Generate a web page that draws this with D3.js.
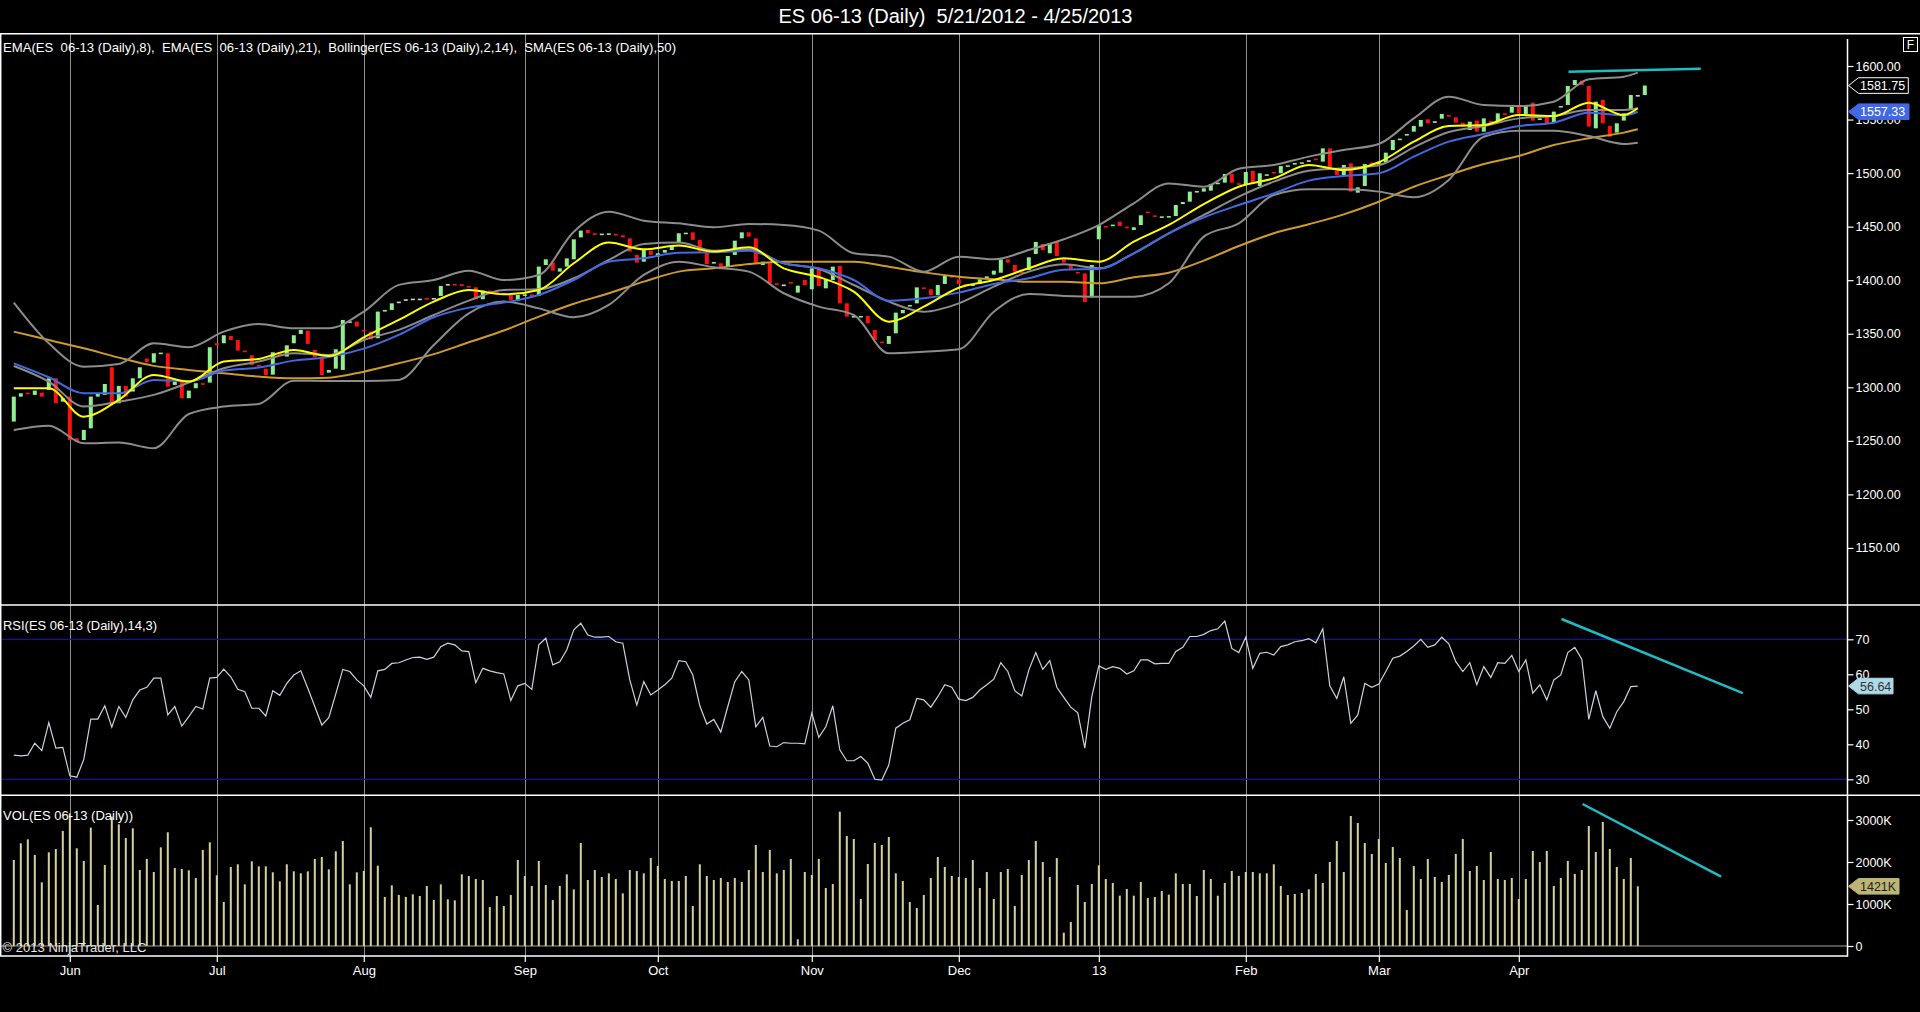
<!DOCTYPE html>
<html><head><meta charset="utf-8">
<script src="https://cdn.jsdelivr.net/npm/d3@7"></script>
<style>html,body{margin:0;padding:0;background:#000;overflow:hidden}svg{display:block}</style>
</head><body><svg id="c" width="1920" height="1012"></svg>
<script>
// ---------------- DATA ----------------
const titleText = "ES 06-13 (Daily)  5/21/2012 - 4/25/2013";
const monthLabels = ["Jun","Jul","Aug","Sep","Oct","Nov","Dec","13","Feb","Mar","Apr"];
const monthStart  = [8,29,50,73,92,114,135,155,176,195,215];
const priceTicks = [1150,1200,1250,1300,1350,1400,1450,1500,1550,1600];
const rsiTicks = [30,40,50,60,70];
const volTicks = [0,1000,2000,3000];

const openP = [
1268.0,1291.3,1295.0,1292.9,1295.0,1297.5,1308.4,1286.6,1291.3,1252.4,
1250.8,1261.7,1291.3,1292.9,1318.7,1285.1,1301.3,1296.0,1308.4,1326.8,
1323.1,1331.8,1331.8,1302.2,1305.3,1289.8,1299.1,1303.8,1304.4,1341.1,
1341.1,1347.9,1344.2,1334.3,1329.9,1320.9,1317.4,1311.8,1332.7,1328.7,
1341.1,1349.8,1352.9,1334.9,1328.7,1313.7,1317.4,1316.2,1361.6,1361.3,
1353.6,1352.0,1345.8,1370.7,1372.2,1380.0,1382.2,1382.8,1382.8,1383.4,
1383.4,1385.3,1396.5,1396.5,1396.2,1394.6,1393.4,1382.2,1390.3,1389.0,
1388.1,1386.2,1380.9,1386.2,1386.8,1385.3,1414.2,1416.4,1408.0,1412.7,
1419.5,1440.0,1446.9,1443.8,1443.2,1443.5,1443.2,1441.9,1439.1,1423.6,
1417.3,1427.6,1422.0,1425.7,1428.2,1435.1,1443.8,1444.7,1437.6,1426.7,
1416.1,1415.8,1412.7,1423.6,1439.1,1444.7,1439.1,1414.2,1415.8,1397.1,
1396.0,1398.3,1388.4,1400.2,1391.5,1410.2,1392.4,1400.2,1413.3,1378.4,
1366.0,1365.4,1366.6,1353.5,1342.6,1340.5,1350.4,1369.1,1375.6,1378.4,
1393.3,1391.5,1386.2,1396.5,1403.9,1400.8,1396.5,1395.2,1396.5,1402.7,
1405.2,1407.0,1419.5,1414.2,1408.0,1409.5,1424.5,1433.8,1425.1,1436.0,
1420.4,1415.1,1407.7,1406.4,1384.0,1438.2,1450.6,1450.6,1454.6,1450.0,
1446.9,1451.5,1464.0,1460.6,1459.3,1459.6,1459.9,1471.1,1473.3,1482.7,
1482.7,1483.6,1489.8,1491.1,1499.2,1490.5,1489.8,1502.0,1488.0,1498.2,
1501.0,1499.8,1506.6,1508.2,1509.4,1512.0,1513.5,1510.7,1523.1,1502.3,
1498.2,1509.1,1481.7,1488.0,1509.8,1507.9,1509.8,1521.6,1530.9,1535.3,
1538.7,1543.4,1550.2,1548.4,1550.8,1554.3,1552.1,1547.1,1540.2,1549.0,
1538.7,1548.6,1548.0,1555.8,1556.4,1562.7,1555.2,1565.8,1549.6,1552.7,
1547.1,1561.4,1563.6,1582.3,1586.3,1581.3,1541.8,1568.3,1544.0,1537.8,
1549.0,1558.9,1572.9,1572.9];
const closeP = [
1291.3,1294.4,1293.8,1296.9,1291.3,1308.4,1285.1,1289.8,1250.8,1249.3,
1260.2,1291.3,1294.4,1303.1,1285.1,1301.3,1291.3,1308.4,1318.7,1323.7,
1331.8,1332.4,1300.6,1305.3,1289.8,1296.9,1303.8,1302.5,1337.4,1339.2,
1348.6,1344.2,1334.3,1333.3,1320.9,1319.9,1311.5,1332.7,1330.2,1339.2,
1348.6,1353.6,1340.5,1328.0,1311.5,1316.2,1335.5,1362.9,1361.6,1356.7,
1352.3,1344.8,1370.7,1372.2,1378.4,1380.0,1382.2,1382.8,1382.8,1382.8,
1383.4,1394.6,1396.5,1395.5,1394.6,1394.3,1382.2,1390.3,1389.0,1388.1,
1387.5,1381.5,1386.2,1386.8,1384.6,1412.7,1419.5,1408.9,1411.1,1420.4,
1438.2,1446.3,1443.8,1443.2,1443.5,1443.8,1441.9,1440.0,1426.7,1416.4,
1428.2,1423.6,1425.1,1428.2,1432.9,1443.8,1444.4,1437.6,1426.7,1415.1,
1417.0,1410.2,1422.6,1436.9,1444.7,1440.7,1415.8,1417.3,1397.1,1396.5,
1396.0,1397.1,1394.9,1395.5,1411.1,1394.6,1400.2,1412.6,1378.4,1366.0,
1366.6,1366.6,1359.7,1344.2,1341.4,1347.9,1369.7,1372.2,1376.9,1393.3,
1392.7,1386.2,1395.5,1403.9,1402.7,1396.5,1396.1,1396.1,1400.8,1403.6,
1408.9,1419.5,1416.4,1408.0,1407.0,1421.4,1435.7,1428.2,1434.4,1422.6,
1416.4,1409.5,1406.4,1379.7,1414.2,1451.5,1449.4,1451.9,1450.6,1448.7,
1449.4,1460.6,1463.1,1459.3,1459.6,1459.9,1470.2,1473.0,1482.7,1483.3,
1485.8,1489.8,1491.1,1499.2,1491.1,1489.8,1501.0,1490.5,1499.8,1498.9,
1499.8,1506.6,1507.3,1509.4,1510.1,1512.0,1512.2,1523.1,1502.9,1498.2,
1507.6,1482.7,1486.7,1508.5,1508.5,1510.4,1519.1,1530.9,1532.2,1536.5,
1544.0,1549.6,1546.5,1548.4,1555.2,1552.7,1547.1,1543.4,1548.0,1538.7,
1551.1,1547.1,1555.8,1555.5,1562.0,1555.8,1563.6,1549.0,1551.1,1546.5,
1557.4,1562.7,1581.3,1586.9,1582.3,1543.4,1566.7,1546.5,1534.0,1546.5,
1555.8,1572.9,1572.9,1581.75];

const volumeK = [
2048,2445,2540,2167,1516,2230,2310,2738,3159,2326,
2024,2818,976,1929,3080,2897,2572,2802,1810,2072,
1762,2349,2707,1857,1833,1802,1619,2286,2468,1683,
1048,1881,1945,1468,2016,1897,1897,1754,1540,1945,
1778,1730,1778,2072,2119,1826,2254,2500,1468,1754,
1786,2826,1913,1167,1445,1214,1167,1230,1191,1429,
1095,1468,1111,1087,1706,1667,1595,1572,929,1191,
952,1214,2048,1667,1429,2024,1452,1095,1429,1706,
1349,2453,1572,1810,1643,1730,1595,1254,1810,1786,
1730,2095,1905,1595,1548,1548,1667,952,1945,1667,
1572,1619,1524,1619,1524,1810,2405,1762,2286,1730,
1810,2072,159,1762,1691,2072,1381,1476,3199,2619,
2548,1119,1953,2453,2405,2595,1730,1548,1048,905,
1214,1619,2119,1881,1667,1643,1619,2048,1381,1762,
1119,1762,1833,952,1691,2048,2500,2000,1643,2095,
317,571,1452,1048,1476,1921,1595,1500,1198,1357,
1198,1524,1143,1167,1310,1222,1730,1476,1476,1191,
1810,1595,1198,1500,1786,1670,1762,1762,1730,1730,
1945,1429,1214,1238,1262,1349,1714,1500,2000,2500,
1762,3095,2929,2453,2191,2548,1976,2357,2095,857,
1905,1595,2072,1643,1524,1691,2191,2548,1786,1905,
1572,2238,1595,1572,1619,1119,1595,2262,2000,2262,
1429,1619,2024,1714,1810,2857,2238,2953,2310,1881,
1595,2095,1421];

const rsiVals = [
36.9,36.7,36.9,40.3,38.2,46.2,38.9,39.1,31.0,30.6,
35.7,47.2,47.2,51.0,44.9,50.8,47.7,52.7,55.5,56.3,
58.9,58.9,48.4,50.8,45.2,47.9,50.8,50.1,58.9,59.1,
61.5,59.3,55.7,55.0,50.3,50.3,48.1,55.3,54.0,57.4,
59.8,61.0,56.0,50.8,45.5,47.6,54.4,61.4,60.8,58.4,
56.7,53.4,61.0,61.4,63.1,63.3,64.1,64.8,64.9,64.3,
64.9,67.9,68.9,68.4,66.7,66.5,57.6,61.7,61.0,60.5,
60.1,52.5,56.7,57.4,55.7,68.4,70.3,62.7,63.6,67.0,
72.7,74.6,71.2,70.6,70.6,70.8,69.3,68.9,58.4,51.2,
57.9,54.1,55.5,57.0,58.9,63.9,63.6,59.8,51.0,45.8,
47.1,43.5,50.8,57.9,60.8,58.4,45.0,47.7,39.5,39.3,
40.5,40.3,40.3,40.1,48.9,42.0,45.0,51.0,38.4,35.3,
35.3,36.5,34.6,30.0,29.8,34.1,44.6,46.0,47.0,53.1,
52.7,50.6,53.6,57.0,56.3,52.9,52.5,53.4,55.5,57.0,
58.6,63.3,60.8,55.3,53.8,61.2,66.2,61.4,63.9,56.3,
53.4,50.6,49.0,38.9,53.6,62.4,61.4,62.2,61.7,60.1,
61.0,64.1,64.1,63.0,63.1,63.1,66.5,67.7,70.8,70.8,
71.4,72.5,73.0,75.2,67.4,66.2,70.6,61.7,66.0,66.3,
65.5,67.9,68.4,69.3,69.6,70.2,69.0,73.0,56.7,53.1,
59.3,46.0,48.4,57.4,56.3,57.2,60.8,64.6,65.2,66.5,
68.1,70.0,67.7,68.4,70.6,68.7,63.6,60.8,63.3,57.0,
62.2,59.1,63.3,63.1,65.4,60.8,64.1,54.6,57.0,52.7,
58.4,59.8,66.2,67.7,64.3,47.1,55.3,47.9,44.6,49.3,
52.2,56.5,56.64];

// indicator lines, read at these bar indices
const lineIdx = [0,5,10,15,20,25,30,35,40,45,50,55,60,65,70,75,80,85,90,95,100,105,110,115,120,125,130,135,140,145,150,155,160,165,170,175,180,185,190,195,200,205,210,215,220,225,230,232];
const ema8 = [1299.1,1299.1,1272.6,1288.2,1311.5,1305.3,1324.0,1326.5,1334.9,1329.3,1346.7,1362.9,1380.0,1390.9,1386.8,1390.9,1415.8,1435.1,1428.8,1432.3,1426.7,1430.7,1411.1,1403.0,1389.3,1361.3,1375.3,1393.0,1400.2,1411.1,1420.4,1417.3,1436.0,1451.6,1471.1,1487.3,1495.1,1507.6,1502.9,1510.1,1529.4,1544.0,1544.9,1554.3,1553.3,1565.8,1554.3,1560.5];
const ema21 = [1322.4,1309.4,1294.4,1294.4,1306.9,1305.6,1315.6,1318.4,1324.9,1328.3,1336.1,1348.9,1365.4,1374.4,1379.1,1386.2,1400.2,1417.3,1420.4,1425.7,1426.0,1427.6,1415.8,1411.1,1400.2,1380.9,1383.1,1388.4,1396.5,1401.8,1409.8,1410.5,1425.1,1443.8,1458.7,1470.2,1481.1,1493.0,1497.3,1499.8,1515.4,1529.4,1536.5,1544.0,1547.1,1556.4,1553.9,1557.33];
const sma50 = [1352.0,1344.2,1336.4,1327.7,1320.0,1316.2,1313.1,1310.0,1308.4,1309.0,1314.6,1322.4,1331.0,1342.0,1353.0,1366.0,1378.0,1387.8,1398.7,1408.0,1411.1,1415.1,1417.3,1417.3,1417.3,1412.6,1407.3,1403.3,1400.8,1398.6,1398.6,1397.1,1402.7,1407.0,1418.3,1431.9,1443.8,1452.2,1461.5,1473.3,1487.3,1498.2,1508.5,1516.0,1526.2,1532.5,1537.8,1540.9];
const bbUpper = [1379.1,1341.1,1319.3,1321.8,1341.1,1337.4,1352.0,1359.1,1355.1,1355.1,1370.7,1395.6,1400.2,1408.9,1400.2,1404.9,1445.3,1464.0,1455.6,1453.1,1449.4,1452.5,1451.6,1446.3,1425.1,1422.0,1408.0,1422.0,1419.5,1428.2,1438.2,1451.5,1471.8,1490.4,1487.3,1504.1,1507.6,1515.4,1521.6,1527.2,1551.1,1571.4,1563.6,1562.6,1566.7,1587.6,1590.0,1593.8];
const bbMid = [1319.9,1305.3,1282.0,1286.6,1292.9,1304.4,1317.8,1324.0,1331.8,1330.2,1344.2,1353.6,1367.5,1380.9,1390.9,1391.5,1401.8,1418.9,1433.8,1435.1,1427.6,1428.8,1415.8,1410.5,1395.5,1380.0,1370.6,1378.4,1394.0,1408.0,1414.8,1411.1,1425.1,1443.8,1460.9,1478.0,1492.0,1502.3,1504.5,1507.3,1524.1,1538.4,1544.0,1551.1,1553.3,1558.9,1558.9,1560.5];
const bbLower = [1260.2,1264.2,1247.7,1248.4,1243.1,1275.1,1282.0,1284.5,1306.2,1305.9,1305.9,1306.9,1339.5,1369.1,1380.0,1373.7,1365.4,1376.9,1404.9,1417.3,1412.0,1408.0,1387.8,1375.3,1367.5,1331.7,1333.3,1335.5,1370.6,1387.1,1385.3,1384.6,1384.6,1397.1,1440.7,1453.1,1479.6,1484.9,1484.9,1482.7,1477.4,1493.6,1534.0,1539.6,1539.6,1534.6,1527.2,1528.4];

// hand-drawn trend lines (bar index, value)
const priceTrend = [[222.1,1594.7],[241.0,1597.5]];
const rsiTrend = [[221.1,75.8],[247.0,54.6]];
const volTrend = [[224.1,3381],[243.9,1650]];

const lastPrice = 1581.75, lastEma21 = 1557.33, lastRsi = 56.64, lastVol = 1421;

// ---------------- DRAW ----------------
const W = 1920, H = 1012, AX = 1847.5;
const FONT = "'Liberation Sans', Arial, sans-serif";
const svg = d3.select('#c');
svg.append('rect').attr('width', W).attr('height', H).attr('fill', '#000');

const x  = d3.scaleLinear().domain([0, 233]).range([13.8, 1644.8]);
const yP = d3.scaleLinear().domain([1150, 1600]).range([547.95, 66]);
const yR = d3.scaleLinear().domain([30, 70]).range([779.3, 639.3]);
const yV = d3.scaleLinear().domain([0, 3000]).range([946, 820]);

const defs = svg.append('defs');
function clip(id, y0, y1) {
  defs.append('clipPath').attr('id', id).append('rect').attr('x', 1).attr('y', y0).attr('width', AX - 1.5).attr('height', y1 - y0);
}
clip('cp', 34.5, 604.5); clip('cr', 605.5, 795); clip('cv', 796, 956);

// month grid lines
svg.append('g').selectAll('line').data(monthStart).join('line')
  .attr('x1', d => Math.round(x(d)) + 0.5).attr('x2', d => Math.round(x(d)) + 0.5)
  .attr('y1', 34).attr('y2', 956).attr('stroke', '#8e8e8e').attr('stroke-width', 1);

// RSI 70/30 lines
svg.append('g').selectAll('line').data([70, 30]).join('line')
  .attr('x1', 1).attr('x2', AX).attr('y1', d => yR(d)).attr('y2', d => yR(d))
  .attr('stroke', '#14149a').attr('stroke-width', 1.3);

// volume zero line
svg.append('line').attr('x1', 1).attr('x2', AX).attr('y1', yV(0)).attr('y2', yV(0))
  .attr('stroke', '#a8a48c').attr('stroke-width', 1);

// ---- Price panel ----
const gPrice = svg.append('g').attr('clip-path', 'url(#cp)');
const idxAll = d3.range(openP.length);
gPrice.selectAll('rect.c').data(idxAll).join('rect')
  .attr('x', i => x(i) - 2).attr('width', 4)
  .attr('y', i => yP(Math.max(openP[i], closeP[i])))
  .attr('height', i => Math.max(1.6, Math.abs(yP(openP[i]) - yP(closeP[i]))))
  .attr('fill', i => closeP[i] > openP[i] ? '#90ee90' : (closeP[i] < openP[i] ? '#ff1010' : '#d0d0d0'));

function drawLine(g, vals, ys, color, w) {
  const ln = d3.line().x((d, k) => x(lineIdx[k])).y(d => ys(d)).curve(d3.curveMonotoneX);
  g.append('path').datum(vals).attr('d', ln).attr('fill', 'none')
    .attr('stroke', color).attr('stroke-width', w).attr('stroke-linejoin', 'round');
}
drawLine(gPrice, sma50, yP, '#cf9a2c', 2);
drawLine(gPrice, bbUpper, yP, '#8c8c8c', 2);
drawLine(gPrice, bbLower, yP, '#8c8c8c', 2);
drawLine(gPrice, bbMid, yP, '#8c8c8c', 2);
drawLine(gPrice, ema21, yP, '#4169e1', 2);
drawLine(gPrice, ema8, yP, '#ffff00', 2);

const trendColor = '#20bcc4';
gPrice.append('line')
  .attr('x1', x(priceTrend[0][0])).attr('y1', yP(priceTrend[0][1]))
  .attr('x2', x(priceTrend[1][0])).attr('y2', yP(priceTrend[1][1]))
  .attr('stroke', trendColor).attr('stroke-width', 2.5);

// ---- RSI panel ----
const gR = svg.append('g').attr('clip-path', 'url(#cr)');
gR.append('path').datum(rsiVals)
  .attr('d', d3.line().x((d, i) => x(i)).y(d => yR(d)))
  .attr('fill', 'none').attr('stroke', '#c8d4dc').attr('stroke-width', 1.2);
gR.append('line')
  .attr('x1', x(rsiTrend[0][0])).attr('y1', yR(rsiTrend[0][1]))
  .attr('x2', x(rsiTrend[1][0])).attr('y2', yR(rsiTrend[1][1]))
  .attr('stroke', trendColor).attr('stroke-width', 2.5);

// ---- Volume panel ----
const gV = svg.append('g').attr('clip-path', 'url(#cv)');
gV.selectAll('rect').data(volumeK).join('rect')
  .attr('x', (d, i) => x(i) - 1).attr('width', 2)
  .attr('y', d => yV(d)).attr('height', d => yV(0) - yV(d))
  .attr('fill', '#d6cf9f');
gV.append('line')
  .attr('x1', x(volTrend[0][0])).attr('y1', yV(volTrend[0][1]))
  .attr('x2', x(volTrend[1][0])).attr('y2', yV(volTrend[1][1]))
  .attr('stroke', trendColor).attr('stroke-width', 2.5);

// ---- borders ----
const border = svg.append('g').attr('stroke', '#ffffff').attr('stroke-width', 1.5);
border.append('line').attr('x1', 0).attr('x2', W).attr('y1', 33.7).attr('y2', 33.7);
border.append('line').attr('x1', 0).attr('x2', W).attr('y1', 605).attr('y2', 605);
border.append('line').attr('x1', 0).attr('x2', W).attr('y1', 795.3).attr('y2', 795.3);
border.append('line').attr('x1', 0).attr('x2', AX).attr('y1', 956).attr('y2', 956);
border.append('line').attr('x1', AX).attr('x2', AX).attr('y1', 39).attr('y2', 956.7);
border.append('line').attr('x1', 0.7).attr('x2', 0.7).attr('y1', 33.7).attr('y2', 956);

// ---- axes ----
function styleAxis(g) {
  g.select('.domain').remove();
  g.selectAll('.tick line').attr('stroke', '#ffffff').attr('stroke-width', 1.2);
  g.selectAll('.tick text').attr('fill', '#ffffff').style('font-family', FONT).style('font-size', '12.5px');
}
svg.append('g').attr('transform', `translate(${AX},0)`)
  .call(d3.axisRight(yP).tickValues(priceTicks).tickSize(6).tickPadding(2).tickFormat(d => d.toFixed(2)))
  .call(styleAxis);
svg.append('g').attr('transform', `translate(${AX},0)`)
  .call(d3.axisRight(yR).tickValues(rsiTicks).tickSize(6).tickPadding(2).tickFormat(d => String(d)))
  .call(styleAxis);
svg.append('g').attr('transform', `translate(${AX},0)`)
  .call(d3.axisRight(yV).tickValues(volTicks).tickSize(6).tickPadding(2).tickFormat(d => d === 0 ? '0' : d + 'K'))
  .call(styleAxis);
svg.append('g').attr('transform', 'translate(0,956)')
  .call(d3.axisBottom(x).tickValues(monthStart).tickSize(6).tickPadding(4).tickFormat((d, i) => monthLabels[i]))
  .call(g => {
    g.select('.domain').remove();
    g.selectAll('.tick line').attr('stroke', '#ffffff').attr('stroke-width', 1.2);
    g.selectAll('.tick text').attr('fill', '#ffffff').style('font-family', FONT).style('font-size', '13px');
  });

// ---- value flags ----
function flag(cy, label, fill, stroke, textColor, right) {
  const g = svg.append('g');
  const l = AX + 1, b = AX + 11, h = 7.8;
  g.append('path')
    .attr('d', `M${l},${cy} L${b},${cy - h} L${right},${cy - h} L${right},${cy + h} L${b},${cy + h} Z`)
    .attr('fill', fill).attr('stroke', stroke).attr('stroke-width', 1);
  g.append('text').attr('x', b + 1.5).attr('y', cy + 4.5).text(label)
    .attr('fill', textColor).style('font-family', FONT).style('font-size', '12.5px');
}
flag(yP(lastPrice), lastPrice.toFixed(2), '#000000', '#ffffff', '#ffffff', 1908.3);
flag(yP(lastEma21), lastEma21.toFixed(2), '#4169e1', '#4169e1', '#ffffff', 1909);
flag(yR(lastRsi), lastRsi.toFixed(2), '#add8e6', '#add8e6', '#333333', 1893);
flag(yV(lastVol), Math.round(lastVol) + 'K', '#bdb476', '#bdb476', '#222222', 1899);

// ---- texts ----
function txt(xp, yp, s, size, len, color, anchor) {
  const t = svg.append('text').attr('x', xp).attr('y', yp).text(s)
    .attr('fill', color || '#ffffff').style('font-family', FONT).style('font-size', size + 'px')
    .style('white-space', 'pre').attr('text-anchor', anchor || 'start');
  if (len) t.attr('textLength', len).attr('lengthAdjust', 'spacingAndGlyphs');
  return t;
}
txt(955.5, 23.3, titleText, 19.5, 354, '#ffffff', 'middle');
txt(3, 51.5, 'EMA(ES  06-13 (Daily),8),  EMA(ES  06-13 (Daily),21),  Bollinger(ES 06-13 (Daily),2,14),  SMA(ES 06-13 (Daily),50)', 13, 673);
txt(3, 629.5, 'RSI(ES 06-13 (Daily),14,3)', 12.5, 154);
txt(3, 819.5, 'VOL(ES 06-13 (Daily))', 12.5, 130);
txt(2.5, 951.5, '\u00a9 2013 NinjaTrader, LLC', 12.5, 144, '#e6e6e6');

// F box
svg.append('rect').attr('x', 1903.5).attr('y', 37.5).attr('width', 14).attr('height', 14)
  .attr('fill', '#000').attr('stroke', '#ffffff').attr('stroke-width', 1);
txt(1910.5, 49, 'F', 12, null, '#ffffff', 'middle');
</script>
</body></html>
